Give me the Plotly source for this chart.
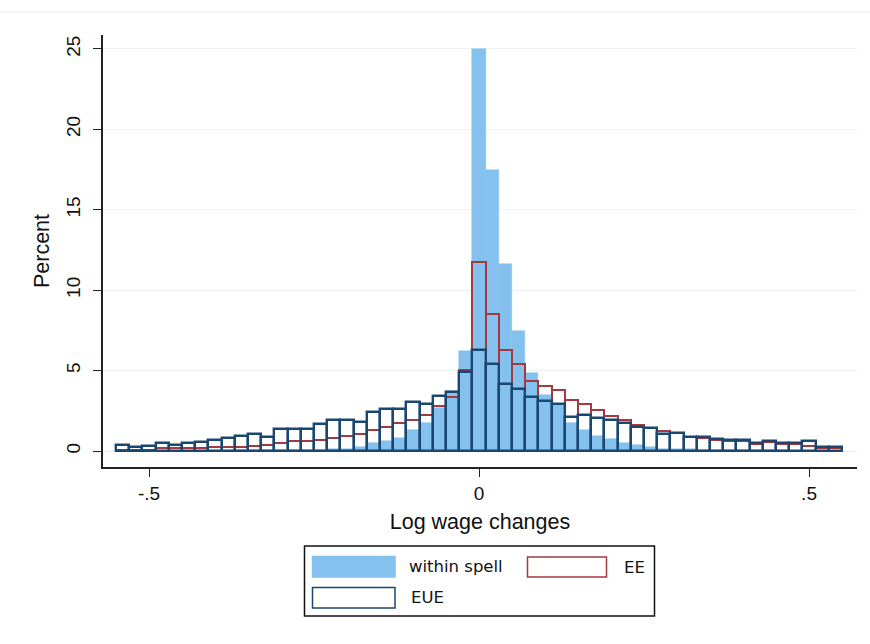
import plotly.graph_objects as go

# Histogram bin midpoints (bin width 0.02)
bin_mid = [-0.54, -0.52, -0.50, -0.48, -0.46, -0.44, -0.42, -0.40, -0.38, -0.36,
           -0.34, -0.32, -0.30, -0.28, -0.26, -0.24, -0.22, -0.20, -0.18, -0.16,
           -0.14, -0.12, -0.10, -0.08, -0.06, -0.04, -0.02, 0.00, 0.02, 0.04,
           0.06, 0.08, 0.10, 0.12, 0.14, 0.16, 0.18, 0.20, 0.22, 0.24,
           0.26, 0.28, 0.30, 0.32, 0.34, 0.36, 0.38, 0.40, 0.42, 0.44,
           0.46, 0.48, 0.50, 0.52, 0.54]
bin_width = 0.02

# Percent of observations in each bin
within_spell = [0.02, 0.02, 0.02, 0.02, 0.02, 0.02, 0.03, 0.03, 0.03, 0.04,
                0.04, 0.04, 0.05, 0.05, 0.06, 0.09, 0.10, 0.12, 0.25, 0.50,
                0.63, 0.83, 1.30, 1.73, 2.65, 3.75, 6.22, 25.0, 17.5, 11.6,
                7.46, 4.88, 3.50, 2.92, 1.72, 1.31, 0.94, 0.73, 0.52, 0.39,
                0.27, 0.15, 0.15, 0.10, 0.08, 0.07, 0.06, 0.05, 0.05, 0.04,
                0.04, 0.03, 0.03, 0.03, 0.02]
ee = [0.05, 0.05, 0.08, 0.20, 0.17, 0.17, 0.18, 0.25, 0.27, 0.28,
      0.33, 0.36, 0.50, 0.60, 0.62, 0.70, 0.81, 0.93, 1.04, 1.28,
      1.49, 1.72, 1.92, 2.27, 2.81, 3.38, 5.06, 11.78, 8.52, 6.28,
      5.40, 4.38, 4.04, 3.82, 3.15, 2.91, 2.57, 2.15, 1.91, 1.60,
      1.42, 1.25, 1.10, 0.86, 0.82, 0.70, 0.62, 0.60, 0.45, 0.55,
      0.45, 0.45, 0.30, 0.18, 0.20]
eue = [0.35, 0.25, 0.34, 0.48, 0.37, 0.48, 0.57, 0.70, 0.83, 0.93,
       1.05, 0.90, 1.36, 1.36, 1.36, 1.70, 1.93, 1.93, 1.83, 2.42,
       2.59, 2.59, 3.05, 2.95, 3.40, 3.65, 4.94, 6.28, 5.39, 4.16,
       3.83, 3.38, 3.14, 2.92, 2.13, 2.26, 2.03, 1.94, 1.72, 1.47,
       1.46, 1.04, 1.12, 0.90, 0.85, 0.75, 0.68, 0.66, 0.48, 0.60,
       0.50, 0.50, 0.62, 0.25, 0.22]

x_ticks = [-0.5, 0, 0.5]
x_tick_text = ["-.5", "0", ".5"]
y_ticks = [0, 5, 10, 15, 20, 25]

LIGHT_BLUE = "#85C1EE"
CRANBERRY = "#A5393D"
NAVY = "#1A476F"
AXIS_FONT = "Liberation Sans, Arial, sans-serif"

fig = go.Figure()
fig.add_trace(go.Bar(x=bin_mid, y=within_spell, width=bin_width, name="within spell",
                     marker=dict(color=LIGHT_BLUE, line=dict(color=LIGHT_BLUE, width=0.5))))
fig.add_trace(go.Bar(x=bin_mid, y=ee, width=bin_width, name="EE",
                     marker=dict(color="rgba(0,0,0,0)", line=dict(color=CRANBERRY, width=2))))
fig.add_trace(go.Bar(x=bin_mid, y=eue, width=bin_width, name="EUE",
                     marker=dict(color="rgba(0,0,0,0)", line=dict(color=NAVY, width=2.4))))

fig.update_layout(
    width=870, height=644,
    margin=dict(l=103, r=13, t=35, b=177),
    paper_bgcolor="white", plot_bgcolor="white",
    barmode="overlay", bargap=0,
    showlegend=False,
    font=dict(family=AXIS_FONT, size=19, color="#111"),
)
fig.update_xaxes(
    range=[-0.5697, 0.5727], tickvals=x_ticks, ticktext=x_tick_text,
    ticks="outside", ticklen=8, tickwidth=1.3, tickcolor="#222",
    showline=True, linecolor="#222", linewidth=1.5,
    showgrid=False, zeroline=False,
    title=dict(text="Log wage changes", font=dict(size=21.5), standoff=11),
)
fig.update_yaxes(
    range=[-0.995, 25.87], tickvals=y_ticks, tickangle=-90,
    ticks="outside", ticklen=8, tickwidth=1.3, tickcolor="#222",
    ticklabelstandoff=6,
    showline=True, linecolor="#222", linewidth=1.5,
    showgrid=True, gridcolor="#EDF1F5", gridwidth=1, zeroline=False,
    title=dict(text="Percent", font=dict(size=21.5), standoff=7),
)

# Thin frame line along the top of the graph region
fig.add_shape(type="line", xref="paper", yref="paper", x0=-0.137, x1=1.02, y0=1.053, y1=1.053,
              line=dict(color="#EBEBEB", width=1))

# Legend box drawn below the plot
def px_x(p):
    return (p - 103) / 754

def px_y(p):
    return (467 - p) / 432

fig.add_shape(type="rect", xref="paper", yref="paper",
              x0=px_x(304.5), x1=px_x(654.5), y0=px_y(616), y1=px_y(546),
              line=dict(color="#111", width=1.5), fillcolor="white")

legend_items = [
    ("within spell", 312.5, 395, 556.5, 577, LIGHT_BLUE, LIGHT_BLUE, 407),
    ("EE", 527.5, 606.5, 557, 577, "white", CRANBERRY, 622),
    ("EUE", 312.5, 395, 587.5, 608, "white", NAVY, 409),
]
for label, sx0, sx1, sy0, sy1, fill, edge, tx in legend_items:
    fig.add_shape(type="rect", xref="paper", yref="paper",
                  x0=px_x(sx0), x1=px_x(sx1), y0=px_y(sy1), y1=px_y(sy0),
                  line=dict(color=edge, width=1.5), fillcolor=fill)
    fig.add_annotation(xref="paper", yref="paper", x=px_x(tx), y=px_y((sy0 + sy1) / 2),
                       text=label, showarrow=False, xanchor="left", yanchor="middle",
                       font=dict(family="DejaVu Sans, sans-serif", size=16.5, color="#111"))

fig.write_html("out.html")
